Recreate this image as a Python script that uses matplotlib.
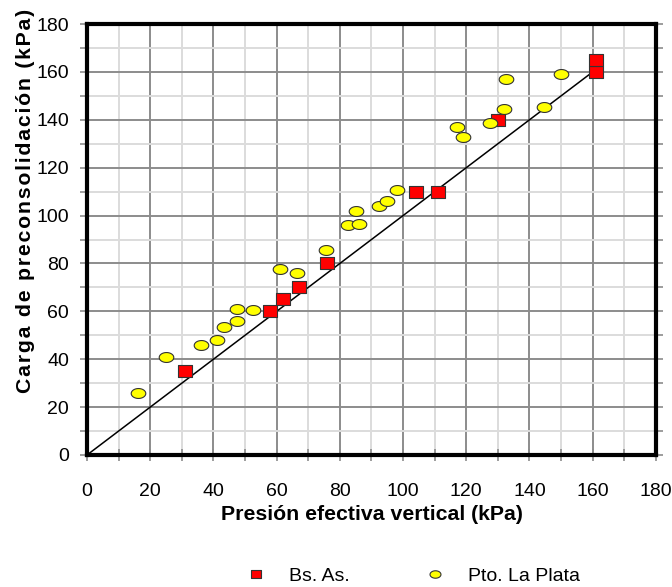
import numpy as np
import matplotlib
matplotlib.use("Agg")
import matplotlib.pyplot as plt
from matplotlib.path import Path
from matplotlib.ticker import MultipleLocator

plt.rcParams['font.family'] = ['Liberation Sans', 'DejaVu Sans']

# Bs. As. (red squares)
bsas_x = [31, 58, 62, 67, 76, 104, 111, 130, 161, 161]
bsas_y = [35, 60, 65, 70, 80, 110, 110, 140, 160, 165]

# Pto. La Plata (yellow ellipses)
lp_x = [16, 25, 36, 41, 43.5, 47.5, 47.5, 52.5, 61, 66.5, 75.5,
        82.5, 86, 85, 92.5, 95, 98, 117, 119, 127.5, 132, 132.5, 144.5, 150]
lp_y = [26, 41, 46, 48, 53.5, 56, 61, 60.5, 77.5, 76, 85.5,
        96, 96.5, 102, 104, 106, 110.5, 137, 133, 138.5, 144.5, 157, 145.5, 159]

# 1:1 line
line_x = [0, 160]
line_y = [0, 160]

# marker shapes: flat ellipse and slightly flat rectangle
t = np.linspace(0, 2 * np.pi, 60)
ellipse = Path(np.column_stack([np.cos(t), 0.68 * np.sin(t)]), closed=True)
rect = Path([(-1, -0.8), (1, -0.8), (1, 0.8), (-1, 0.8), (-1, -0.8)], closed=True)

fig = plt.figure(figsize=(6.72, 5.87), dpi=100)
ax = fig.add_axes([0.1295, 0.2249, 0.8465, 0.7341])

ax.plot(line_x, line_y, color='black', lw=1.1, zorder=3)
ax.plot(bsas_x, bsas_y, ls='none', marker=rect, ms=10, mfc='#ff0000',
        mec='#333333', mew=0.8, label='Bs. As.', zorder=4)
ax.plot(lp_x, lp_y, ls='none', marker=ellipse, ms=10.5, mfc='#ffff00',
        mec='#333333', mew=0.8, label='Pto. La Plata', zorder=4)

ax.set_xlim(0, 180)
ax.set_ylim(0, 180)
ax.xaxis.set_major_locator(MultipleLocator(20))
ax.yaxis.set_major_locator(MultipleLocator(20))
ax.xaxis.set_minor_locator(MultipleLocator(10))
ax.yaxis.set_minor_locator(MultipleLocator(10))

ax.grid(which='minor', color='#dcdcdc', lw=1.4, zorder=0)
ax.grid(which='major', color='#8c8c8c', lw=1.4, zorder=1)
ax.set_axisbelow(True)

for s in ax.spines.values():
    s.set_linewidth(3)
    s.set_color('black')

ax.tick_params(axis='x', which='both', direction='inout', length=9, width=1.2,
               color='#8c8c8c', labelsize=14, pad=16)
ax.tick_params(axis='y', which='both', direction='out', length=5, width=1.2,
               color='#8c8c8c', labelsize=14, pad=8, right=True)
ax.tick_params(axis='y', which='both', labelright=False)

ax.set_xlabel('Presión efectiva vertical (kPa)', fontsize=15.3, fontweight='bold')
ax.xaxis.set_label_coords(0.5, -0.116)
ylab = '\u200a'.join('Carga de preconsolidación (kPa)')
ax.set_ylabel(ylab, fontsize=15.3, fontweight='bold')
ax.yaxis.set_label_coords(-0.092, 0.589)

fig.legend(loc='center', bbox_to_anchor=(0.615, 0.018), ncol=2, frameon=False,
           fontsize=14, handlelength=1.0, columnspacing=3.9, handletextpad=1.2,
           markerscale=0.75)

fig.savefig('out.png', dpi=100, facecolor='white')
